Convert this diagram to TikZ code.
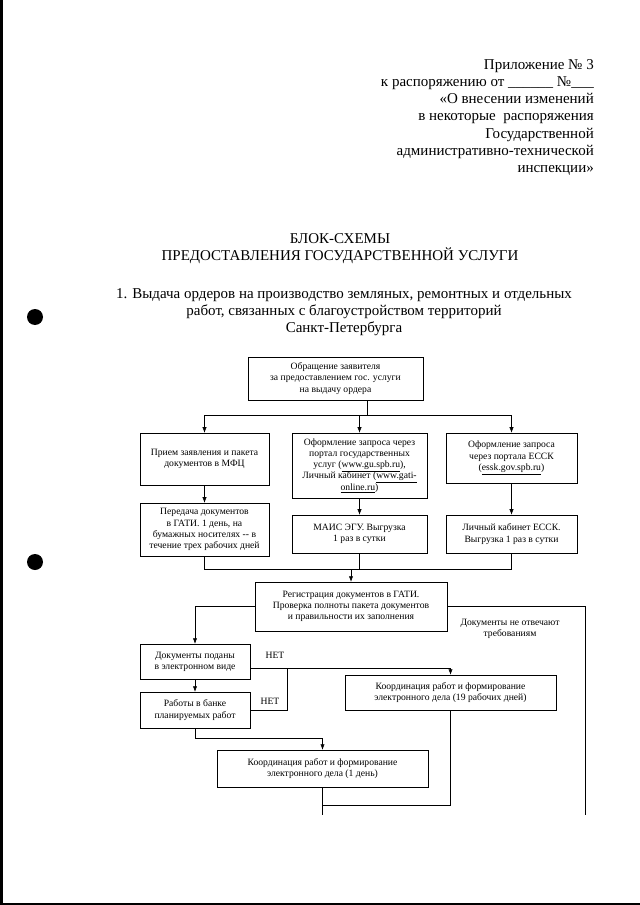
\documentclass[tikz,border=0pt]{standalone}
\usepackage{fontspec}
\setmainfont{Liberation Serif}
\usepackage{tikz}
\usetikzlibrary{positioning, arrows.meta, calc}
\tikzset{sz/.style 2 args={minimum width=#1*0.328mm, minimum height=#2*0.328mm}}

\begin{document}
\begin{tikzpicture}[
      x=0.328mm, y=-0.328mm,
      font=\fontsize{9}{10.5}\selectfont,
      box/.style={draw, line width=0.5pt, align=center, inner sep=2pt},
      hdr/.style={font=\fontsize{14}{16.1}\selectfont, inner sep=0pt},
      lbl/.style={align=center, inner sep=1pt},
      arr/.style={-{Latex[length=1.8mm, width=1.4mm]}, line width=0.5pt},
      ln/.style={line width=0.5pt}
    ]
    \useasboundingbox (0,0) rectangle (640,905);
    \fill[white] (0,0) rectangle (640,905);
    %% scan marks
    \fill (0,0) rectangle (3,905);
    \fill (0,903) rectangle (640,905);
    \fill (35,317) circle[radius=8];
    \fill (35,562) circle[radius=8];
    %% header
    \node[hdr, align=right, anchor=north east] (prilozh) at (594,59)
      {Приложение № 3\\к распоряжению от \_\_\_\_\_\_ №\_\_\_\\«О внесении изменений\\в некоторые\ \ распоряжения\\Государственной\\административно-технической\\инспекции»};
    \node[hdr, align=center, anchor=north] (title) at (340,233)
      {БЛОК-СХЕМЫ\\ПРЕДОСТАВЛЕНИЯ ГОСУДАРСТВЕННОЙ УСЛУГИ};
    \node[hdr, align=center, anchor=north] (subtitle) at (344,288)
      {1. Выдача ордеров на производство земляных, ремонтных и отдельных\\работ, связанных с благоустройством территорий\\Санкт-Петербурга};
    %% start
    \node[box, sz={175}{43}] (obr) at (335.5,378.5) {Обращение заявителя\\за предоставлением гос. услуги\\на выдачу ордера};
    %% three ways of filing
    \node[box, sz={129}{52}] (mfc) at (204.5,459) {Прием заявления и пакета\\документов в МФЦ};
    \node[box, sz={135}{65}] (portal) at (359.5,465.5) {Оформление запроса через\\портал государственных\\услуг (\underline{www.gu.spb.ru}),\\Личный кабинет (\underline{www.gati-}\\\underline{online.ru})};
    \node[box, sz={131}{50}] (essk) at (511.5,458) {Оформление запроса\\через портала ЕССК\\(\underline{essk.gov.spb.ru})};
    \node[box, sz={129}{53}] (peredacha) at (204.5,529.5) {Передача документов\\в ГАТИ. 1 день, на\\бумажных носителях -{}- в\\течение трех рабочих дней};
    \node[box, sz={135}{38}] (mais) at (359.5,534) {МАИС ЭГУ. Выгрузка\\1 раз в сутки};
    \node[box, sz={131}{38}] (lkessk) at (511.5,534) {Личный кабинет ЕССК.\\Выгрузка 1 раз в сутки};
    \coordinate (split) at (367,415);
    \draw[ln] (obr.south -| split) -- (split);
    \draw[ln] (mfc.north |- split) -- (essk.north |- split);
    \draw[arr] (mfc.north |- split) -- (mfc);
    \draw[arr] (portal.north |- split) -- (portal);
    \draw[arr] (essk.north |- split) -- (essk);
    \draw[arr] (mfc) -- (peredacha);
    \draw[arr] (portal) -- (mais);
    \draw[arr] (essk) -- (lkessk);
    %% registration
    \node[box, sz={192}{49}] (reg) at (351,606.5) {Регистрация документов в ГАТИ.\\Проверка полноты пакета документов\\и правильности их заполнения};
    \coordinate (merge) at (351,569);
    \draw[ln] (peredacha) -- (peredacha |- merge) -- (lkessk |- merge) -- (lkessk);
    \draw[ln] (mais) -- (mais |- merge);
    \draw[arr] (merge) -- (reg);
    \coordinate (rejend) at (585,815);
    \draw[ln] (reg.east) -| (rejend);
    \node[lbl] (rejtxt) at (510,629) {Документы не отвечают\\требованиям};
    %% electronic / bank check
    \node[box, sz={110}{35}] (elvid) at (195,661.5) {Документы поданы\\в электронном виде};
    \node[box, sz={110}{36}] (bank) at (195,710) {Работы в банке\\планируемых работ};
    \node[box, sz={211}{35}] (koord19) at (450.5,692.5) {Координация работ и формирование\\электронного дела (19 рабочих дней)};
    \node[box, sz={211}{37}] (koord1) at (322.5,768.5) {Координация работ и формирование\\электронного дела (1 день)};
    \draw[arr] (reg.west) -| (elvid);
    \draw[arr] (elvid) -- (bank);
    \coordinate (net1) at (287,668);
    \draw[arr] (elvid.east |- net1) -| (koord19);
    \draw[ln] (bank.east) -| (net1);
    \node[lbl] (net1txt) at (275,655) {НЕТ};
    \node[lbl] (net2txt) at (270,701) {НЕТ};
    \draw[arr] (bank.south) -- ++(0,10) -| (koord1);
    \coordinate (join) at (322.5,805);
    \coordinate (out) at (322.5,815);
    \draw[ln] (koord1) -- (out);
    \draw[ln] (koord19) |- (join);
  \end{tikzpicture}
\end{document}
